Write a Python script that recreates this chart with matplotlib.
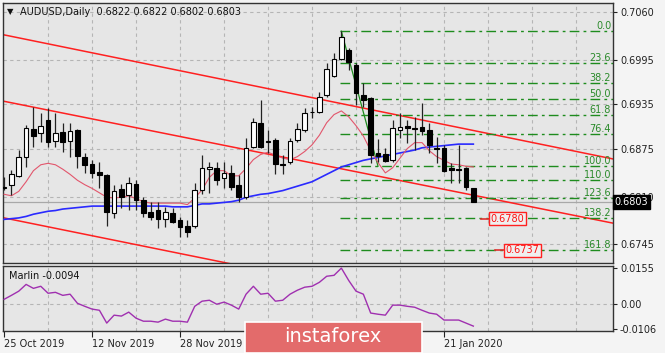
import matplotlib
matplotlib.use("Agg")
import matplotlib.pyplot as plt
from matplotlib.patches import Rectangle
import numpy as np

# daily candles, 25 Oct 2019 .. 27 Jan 2020
opens = [0.6822, 0.6826, 0.6838, 0.6864, 0.6901, 0.6896, 0.6914, 0.6885, 0.6897, 0.6885,
         0.6900, 0.6864, 0.6854, 0.6843, 0.6839, 0.6788, 0.6820, 0.6812, 0.6827, 0.6805,
         0.6789, 0.6792, 0.6780, 0.6788, 0.6778, 0.6770, 0.6770, 0.6819, 0.6847, 0.6849,
         0.6835, 0.6842, 0.6826, 0.6809, 0.6877, 0.6910, 0.6885, 0.6887, 0.6854, 0.6857,
         0.6887, 0.6900, 0.6924, 0.6924, 0.6948, 0.6973, 0.6996, 0.7008, 0.6988, 0.6948,
         0.6943, 0.6869, 0.6868, 0.6859, 0.6900, 0.6906, 0.6903, 0.6904, 0.6900, 0.6876,
         0.6876, 0.6848, 0.6847, 0.6849, 0.6822]
highs = [0.6836, 0.6846, 0.6873, 0.6907, 0.6931, 0.6923, 0.6930, 0.6923, 0.6910, 0.6910,
         0.6902, 0.6869, 0.6859, 0.6857, 0.6841, 0.6826, 0.6827, 0.6836, 0.6832, 0.6809,
         0.6803, 0.6803, 0.6796, 0.6794, 0.6782, 0.6778, 0.6828, 0.6866, 0.6857, 0.6857,
         0.6857, 0.6853, 0.6839, 0.6889, 0.6916, 0.6941, 0.6900, 0.6889, 0.6866, 0.6889,
         0.6910, 0.6930, 0.6931, 0.6952, 0.6991, 0.7004, 0.7034, 0.7011, 0.6991, 0.6964,
         0.6945, 0.6888, 0.6876, 0.6914, 0.6923, 0.6914, 0.6918, 0.6937, 0.6910, 0.6891,
         0.6880, 0.6855, 0.6880, 0.6850, 0.6822]
lows = [0.6819, 0.6812, 0.6836, 0.6850, 0.6877, 0.6884, 0.6877, 0.6877, 0.6870, 0.6864,
        0.6849, 0.6842, 0.6835, 0.6822, 0.6770, 0.6781, 0.6794, 0.6792, 0.6792, 0.6782,
        0.6778, 0.6767, 0.6769, 0.6774, 0.6755, 0.6755, 0.6767, 0.6813, 0.6815, 0.6826,
        0.6822, 0.6819, 0.6803, 0.6807, 0.6876, 0.6876, 0.6869, 0.6840, 0.6840, 0.6854,
        0.6884, 0.6897, 0.6916, 0.6923, 0.6945, 0.6972, 0.6995, 0.6981, 0.6934, 0.6931,
        0.6855, 0.6857, 0.6857, 0.6857, 0.6889, 0.6882, 0.6873, 0.6893, 0.6869, 0.6855,
        0.6843, 0.6828, 0.6828, 0.6819, 0.6802]
closes = [0.6823, 0.6840, 0.6864, 0.6903, 0.6892, 0.6906, 0.6884, 0.6896, 0.6884, 0.6899,
          0.6865, 0.6853, 0.6842, 0.6839, 0.6789, 0.6817, 0.6809, 0.6828, 0.6805, 0.6788,
          0.6782, 0.6780, 0.6789, 0.6775, 0.6769, 0.6762, 0.6819, 0.6849, 0.6850, 0.6832,
          0.6842, 0.6823, 0.6809, 0.6876, 0.6911, 0.6877, 0.6884, 0.6854, 0.6853, 0.6885,
          0.6901, 0.6923, 0.6925, 0.6945, 0.6983, 0.6996, 0.7026, 0.6992, 0.6950, 0.6941,
          0.6866, 0.6865, 0.6858, 0.6903, 0.6904, 0.6903, 0.6902, 0.6899, 0.6880, 0.6874,
          0.6845, 0.6846, 0.6846, 0.6823, 0.6803]

ma_fast = [0.6813, 0.6811, 0.6817, 0.6830, 0.6845, 0.6853, 0.6855, 0.6853, 0.6847, 0.6840,
           0.6832, 0.6826, 0.6821, 0.6815, 0.6809, 0.6808, 0.6809, 0.6811, 0.6807, 0.6803,
           0.6801, 0.6801, 0.6801, 0.6801, 0.6801, 0.6799, 0.6808, 0.6819, 0.6836, 0.6845,
           0.6845, 0.6838, 0.6838, 0.6848, 0.6860, 0.6867, 0.6870, 0.6866, 0.6862, 0.6860,
           0.6864, 0.6871, 0.6880, 0.6893, 0.6910, 0.6921, 0.6926, 0.6918, 0.6906, 0.6892,
           0.6872, 0.6856, 0.6842, 0.6849, 0.6862, 0.6875, 0.6883, 0.6883, 0.6872, 0.6864,
           0.6859, 0.6854, 0.6853, 0.6851, 0.6850]
ma_slow = [0.6779, 0.6780, 0.6781, 0.6783, 0.6786, 0.6788, 0.6790, 0.6791, 0.6793, 0.6794,
           0.6795, 0.6796, 0.6797, 0.6797, 0.6797, 0.6797, 0.6797, 0.6797, 0.6797, 0.6797,
           0.6797, 0.6797, 0.6797, 0.6796, 0.6796, 0.6796, 0.6798, 0.6800, 0.6800, 0.6801,
           0.6802, 0.6803, 0.6805, 0.6809, 0.6811, 0.6813, 0.6814, 0.6816, 0.6818, 0.6821,
           0.6824, 0.6827, 0.6830, 0.6835, 0.6840, 0.6845, 0.6850, 0.6853, 0.6856, 0.6859,
           0.6861, 0.6863, 0.6865, 0.6867, 0.6869, 0.6871, 0.6873, 0.6876, 0.6877, 0.6878,
           0.6879, 0.6880, 0.6881, 0.6881, 0.6881]
marlin = [0.0021, 0.0038, 0.0056, 0.0085, 0.0068, 0.0077, 0.0047, 0.0051, 0.0038, 0.0043,
          0.0004, -0.0009, -0.0021, -0.0026, -0.0081, -0.0047, -0.0051, -0.0034, -0.0060, -0.0073,
          -0.0073, -0.0077, -0.0064, -0.0073, -0.0073, -0.0077, -0.0009, 0.0013, 0.0017, 0.0000,
          0.0009, -0.0004, -0.0021, 0.0043, 0.0077, 0.0043, 0.0047, 0.0013, 0.0017, 0.0043,
          0.0060, 0.0073, 0.0077, 0.0094, 0.0120, 0.0124, 0.0155, 0.0102, 0.0056, 0.0043,
          -0.0038, -0.0043, -0.0047, -0.0004, -0.0004, -0.0009, -0.0013, -0.0026, -0.0038, -0.0043,
          -0.0068, -0.0068, -0.0068, -0.0081, -0.0094]

# the 16 Dec and 3 Jan labels sit under the watermark in the source, only their ticks show
date_labels = ["25 Oct 2019", "12 Nov 2019", "28 Nov 2019", "", "", "21 Jan 2020"]
date_bars = [0, 12, 24, 36, 48, 60]
price_ticks = [0.7060, 0.6995, 0.6935, 0.6875, 0.6810, 0.6745]
marlin_ticks = [0.0155, 0.0, -0.0106]
marlin_tick_labels = ["0.0155", "0.00", "-0.0106"]

# fibonacci grid from the 31 Dec high to the 10 Jan low
fib_high, fib_low = 0.7034, 0.6851
fib_bars = [46, 51]
fib_ratios = [0.0, 0.236, 0.382, 0.5, 0.618, 0.764, 1.0, 1.1, 1.236, 1.382, 1.618]
fib_labels = ["0.0", "23.6", "38.2", "50.0", "61.8", "76.4", "100.0", "110.0", "123.6", "138.2", "161.8"]

# channel lines (bar, price)
chan_bars = [0, 83]
chan_upper = [0.7029, 0.6861]
chan_mid = [0.6939, 0.6774]
chan_lower = [0.6781, 0.6614]

targets = [0.6780, 0.6737]
target_bars = [65, 67]
last_price = 0.6803

BG = "#E6E6E6"
fig = plt.figure(figsize=(6.65, 3.53), dpi=100)
fig.patch.set_facecolor("#F4F4F4")
ax = fig.add_axes([3 / 665, 1 - 263 / 353, 610 / 665, 260 / 353])
ax2 = fig.add_axes([3 / 665, 1 - 331 / 353, 610 / 665, 65 / 353])

x = np.arange(len(opens))
o = np.array(opens); c = np.array(closes)
up = c >= o

for a in (ax, ax2):
    a.set_facecolor(BG)
    a.set_xlim(-0.15, 83.05)
    for s in a.spines.values():
        s.set_color("#333333")
        s.set_linewidth(1)
    for gb in range(6, 84, 6):
        a.axvline(gb, color="#B5B5B5", lw=0.8, ls=(0, (3, 3)), zorder=0)

# main panel
ax.set_ylim(0.67199, 0.70722)
ax.yaxis.tick_right()
ax.set_yticks(price_ticks)
ax.set_yticklabels([f"{p:.4f}" for p in price_ticks])
ax.tick_params(axis="y", labelsize=7, length=3, pad=2, colors="#222222")
ax.tick_params(axis="x", bottom=False, labelbottom=False)
for p in price_ticks:
    ax.axhline(p, color="#B5B5B5", lw=0.8, ls=(0, (3, 3)), zorder=0)
ax.axhline(last_price, color="#A8A8A8", lw=0.9, zorder=1)

ax.plot(chan_bars, chan_upper, color="#FF2020", lw=1.1, zorder=2)
ax.plot(chan_bars, chan_mid, color="#FF2020", lw=1.1, zorder=2)
ax.plot(chan_bars, chan_lower, color="#FF2020", lw=1.1, zorder=2)

# fibonacci
fib_levels = [fib_high - r * (fib_high - fib_low) for r in fib_ratios]
ax.plot(fib_bars, [fib_high, fib_low], color="#1E8C1E", lw=0.9, zorder=3)
for lvl, lab in zip(fib_levels, fib_labels):
    ax.plot([45.8, 83.05], [lvl, lvl], color="#1E8C1E", lw=1, ls=(0, (7, 3, 2, 3)), zorder=2)
    ax.text(82.8, lvl, lab, ha="right", va="bottom", fontsize=7, color="#2A8A2A", zorder=4)

ax.plot(x, ma_slow, color="#2A2AFF", lw=1.2, zorder=3)
ax.plot(x, ma_fast, color="#E2566C", lw=0.8, zorder=3)

# candles
ax.vlines(x, lows, highs, color="#222222", lw=0.9, zorder=4)
heights = np.maximum(np.abs(c - o), 0.00003)
ax.bar(x, heights, bottom=np.minimum(o, c), width=0.62,
       color=np.where(up, "white", "black"), edgecolor="black", lw=0.8, zorder=5)

for tb, tp in zip(target_bars, targets):
    ax.plot([tb, tb + 1.2], [tp, tp], color="#E03030", lw=1.2, zorder=4)
    ax.text(tb + 1.35, tp, f"{tp:.4f}", ha="left", va="center", fontsize=7, color="#FF1010",
            bbox=dict(boxstyle="square,pad=0.15", fc="#EFEFEF", ec="#FF2020", lw=1), zorder=6)

ax.text(83.25, last_price, f"{last_price:.4f}", ha="left", va="center", fontsize=7, color="white",
        bbox=dict(boxstyle="square,pad=0.2", fc="black", ec="black"), zorder=10, clip_on=False)

# indicator panel
ax2.set_ylim(-0.0115, 0.0164)
ax2.plot(x, marlin, color="#A030B0", lw=1, zorder=3)
ax2.axhline(0, color="#B5B5B5", lw=0.8, ls=(0, (3, 3)), zorder=0)
ax2.yaxis.tick_right()
ax2.set_yticks(marlin_ticks)
ax2.set_yticklabels(marlin_tick_labels)
ax2.tick_params(axis="y", labelsize=7, length=3, pad=2, colors="#222222")
ax2.set_xticks(date_bars)
ax2.set_xticklabels(date_labels, ha="left")
ax2.tick_params(axis="x", labelsize=7, length=4, pad=2, colors="#222222")
ax2.text(0.01, 0.93, f"Marlin {marlin[-1]:.4f}", transform=ax2.transAxes, ha="left", va="top",
         fontsize=7, color="#111111")

fig.text(7 / 665, 1 - 12 / 353, "\u25bc", fontsize=6, va="center", color="#111111")
fig.text(20 / 665, 1 - 12 / 353, "AUDUSD,Daily  0.6822 0.6822 0.6802 0.6803", fontsize=7,
         va="center", color="#111111")

# watermark
fig.patches.append(Rectangle((245 / 665, 0), 177 / 665, 31 / 353, transform=fig.transFigure,
                             facecolor="#E36B6B", edgecolor="white", lw=1.2, zorder=20))
fig.text(333 / 665, 1 - 337 / 353, "instaforex", fontsize=14, color="white", ha="center",
         va="center", zorder=21)

fig.savefig("out.png", dpi=100, facecolor=fig.get_facecolor())
